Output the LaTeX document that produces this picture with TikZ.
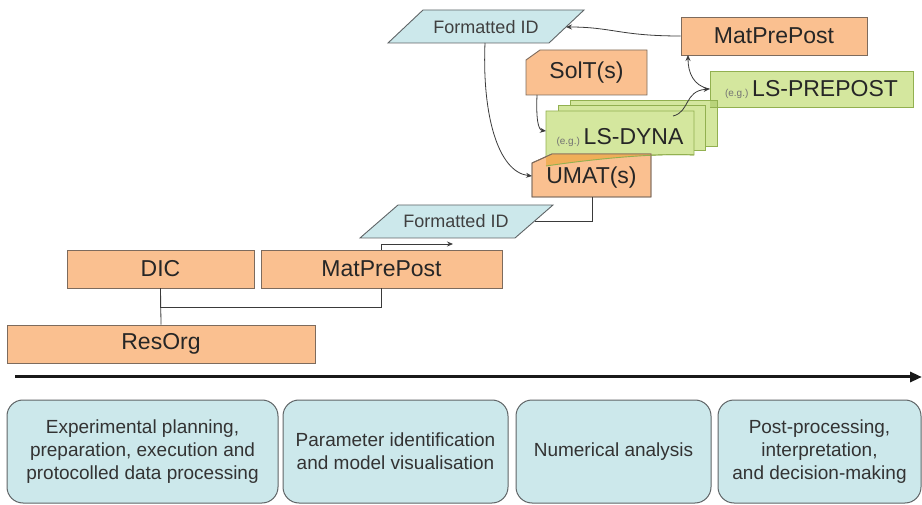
\documentclass[tikz,border=0pt]{standalone}
\usepackage{fontspec}
\setmainfont{Liberation Sans}
\usetikzlibrary{arrows.meta}
\definecolor{orfill}{HTML}{FAC090}
\definecolor{ordraw}{HTML}{7D6B5D}
\definecolor{grfill}{HTML}{D4E79E}
\definecolor{grdraw}{HTML}{92B050}
\definecolor{blfill}{HTML}{CCE8EB}
\definecolor{bldraw}{HTML}{5F6466}
\definecolor{ovlor}{HTML}{F0AE58}
\definecolor{ovlgr}{HTML}{B9D37A}
\definecolor{conncol}{HTML}{3A3A3A}
\begin{document}
\begin{tikzpicture}[x=1pt,y=-1pt,
  orbox/.style={draw=ordraw,fill=orfill,line width=0.9pt},
  grbox/.style={draw=grdraw,fill=grfill,line width=0.9pt},
  datashape/.style={draw=bldraw,fill=blfill,line width=0.9pt},
  phase/.style={draw=bldraw,fill=blfill,line width=1pt,rounded corners=16pt,inner sep=0pt},
  lbl/.style={font=\fontsize{23}{27}\selectfont,text=black!85,inner sep=0pt},
  smalllbl/.style={font=\fontsize{18}{21}\selectfont,text=black!75,inner sep=0pt},
  phasetxt/.style={font=\fontsize{19}{23}\selectfont,align=center,text=black!80},
  conn/.style={draw=conncol,line width=0.8pt},
  arr/.style={conn,-{Stealth[length=6pt,width=5pt]}}
]
\useasboundingbox (0,0) rectangle (922,505);

% ---------- top Formatted ID ----------
\draw[datashape] (388,43) -- (549,43) -- (584,10) -- (423,10) -- cycle;
\node[smalllbl] (fid1) at (486,27) {Formatted ID};
\coordinate (fid1r) at (566,27);
\coordinate (fid1b) at (485,43);

% ---------- top MatPrePost ----------
\node[orbox,lbl,minimum width=186pt,minimum height=38pt] (mp1) at (774,36) {MatPrePost};
\coordinate (mp1bl) at (688,55);

% ---------- SolT(s) ----------
\draw[orbox] (526,60) -- (540,50) -- (647,50) -- (647,95) -- (526,95) -- cycle;
\node[lbl] (solt) at (586.5,73) {SolT(s)};
\coordinate (soltb) at (537,95);

% ---------- LS-DYNA stack ----------
\draw[grbox] (570,100) rectangle (717,146);
\draw[grbox] (558,105) rectangle (705,150);
\draw[grbox] (546,111) -- (694,111) -- (694,155) .. controls (660,153) and (600,158) .. (546,166) -- cycle;
\node[lbl,anchor=base] (dyna) at (620,145) {{\fontsize{10}{10}\selectfont\color{black!55}(e.g.)}\,LS-DYNA};
\coordinate (dynal) at (546,131);
\coordinate (dynat) at (673,116);

% ---------- UMAT(s) ----------
\draw[orbox] (532,163) -- (552,154) -- (651,154) -- (651,197) -- (532,197) -- cycle;
\begin{scope}
  \clip (546,111) -- (694,111) -- (694,155) .. controls (660,153) and (600,158) .. (546,166) -- cycle;
  \fill[ovlor] (532,163) -- (552,154) -- (651,154) -- (651,197) -- (532,197) -- cycle;
\end{scope}
\draw[grdraw,line width=0.9pt] (694,155) .. controls (660,153) and (600,158) .. (546,166);
\draw[ordraw,line width=0.9pt] (532,163) -- (552,154) -- (651,154) -- (651,197) -- (532,197) -- cycle;
\node[lbl] (umat) at (591.5,178) {UMAT(s)};
\coordinate (umatl) at (532,176);
\coordinate (umatb) at (592,197);

% ---------- LS-PREPOST ----------
\node[grbox,minimum width=203pt,minimum height=36pt] (lsp) at (811.5,89) {};
\fill[ovlgr] (710,100) rectangle (717,107);
\draw[grdraw,line width=0.9pt] (710,100) -- (717,100) -- (717,107);
\node[lbl,anchor=base] (lspt) at (811.5,97) {{\fontsize{10}{10}\selectfont\color{black!55}(e.g.)}\,LS-PREPOST};

% ---------- middle Formatted ID ----------
\draw[datashape] (360,238) -- (515,238) -- (553,205) -- (398,205) -- cycle;
\node[smalllbl] (fid2) at (456,221) {Formatted ID};
\coordinate (fid2r) at (535,221);
\coordinate (fid2in) at (453,244);

% ---------- lower boxes ----------
\node[orbox,lbl,minimum width=187pt,minimum height=38pt] (dic) at (160.5,269) {DIC};
\node[orbox,lbl,minimum width=241pt,minimum height=38pt] (mp2) at (381.5,269) {MatPrePost};
\node[orbox,lbl,minimum width=308pt,minimum height=38pt] (res) at (161,344) {ResOrg};

% ---------- connectors ----------
\draw[conn] (dic.south) -- (res.north);
\draw[conn] (mp2.south) -- ++(0,19) -| (dic.south);
\draw[arr] (mp2.north) |- (fid2in);
\draw[conn] (umatb) |- (fid2r);
\draw[arr] (fid1b) .. controls (482,115) and (498,172) .. (umatl);
\draw[arr] (mp1.west) .. controls (620,36) and (612,27) .. (fid1r);
\draw[arr] (soltb) .. controls (536,118) and (538,130) .. (dynal);
\draw[arr] (dynat) .. controls (690,112) and (684,91) .. (lsp.west);
\draw[arr] (lsp.west) .. controls (693,86) and (688,72) .. (mp1bl);

% ---------- time axis ----------
\coordinate (axs) at (15,377);
\coordinate (axe) at (922,377);
\draw[line width=3pt,black!90,-{Triangle[length=12pt,width=10pt]}] (axs) -- (axe);

% ---------- phases ----------
\node[phase,phasetxt,minimum width=271pt,minimum height=103pt] (p1) at (142.5,451.5) {Experimental planning,\\preparation, execution and\\protocolled data processing};
\node[phase,phasetxt,minimum width=225pt,minimum height=103pt] (p2) at (395.5,451.5) {Parameter identification\\and model visualisation};
\node[phase,phasetxt,minimum width=195pt,minimum height=103pt] (p3) at (613.5,451.5) {Numerical analysis};
\node[phase,phasetxt,minimum width=203pt,minimum height=103pt] (p4) at (819.5,451.5) {Post-processing,\\interpretation,\\and decision-making};
\end{tikzpicture}
\end{document}
